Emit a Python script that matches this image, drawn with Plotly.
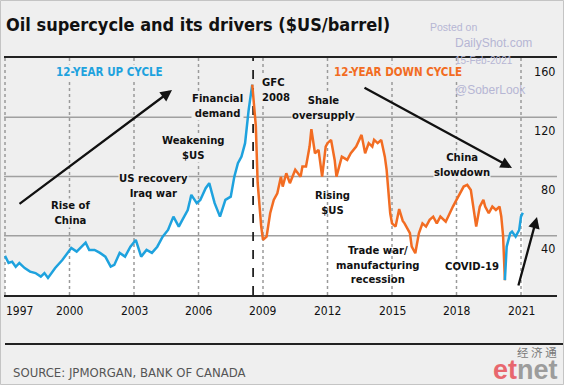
import plotly.graph_objects as go

# ---------------- data ----------------
up_dates = ["1997-01", "1997-03", "1997-05", "1997-07", "1997-09", "1997-12", "1998-03", "1998-06",
            "1998-09", "1998-11", "1999-01", "1999-05", "1999-09", "1999-12", "2000-02", "2000-05",
            "2000-08", "2000-10", "2000-12", "2001-03", "2001-06", "2001-09", "2001-12", "2002-02",
            "2002-05", "2002-08", "2002-11", "2003-02", "2003-05", "2003-08", "2003-11", "2004-02",
            "2004-05", "2004-08", "2004-11", "2005-02", "2005-04", "2005-07", "2005-09", "2005-12",
            "2006-02", "2006-05", "2006-07", "2006-10", "2007-01", "2007-04", "2007-07", "2007-09",
            "2007-11", "2008-01", "2008-03", "2008-05", "2008-07"]
up_values = [26.4, 21.6, 22.5, 19.0, 21.6, 18.2, 15.8, 14.8,
             12.4, 14.8, 11.5, 18.2, 23.6, 28.4, 31.8, 29.3,
             32.6, 35.3, 30.4, 30.4, 28.4, 25.9, 19.1, 20.3,
             28.4, 25.9, 32.6, 37.2, 25.9, 30.4, 28.4, 32.6,
             39.4, 43.9, 52.9, 46.2, 50.7, 57.4, 67.6, 62.0,
             64.2, 72.1, 75.5, 62.0, 52.9, 64.2, 66.4, 79.9,
             89.0, 93.4, 102.5, 125.0, 142.0]

down_dates = ["2008-07", "2008-08", "2008-09", "2008-10", "2008-11", "2008-12", "2009-01", "2009-03",
              "2009-05", "2009-07", "2009-09", "2009-11", "2009-12", "2010-02", "2010-04", "2010-07",
              "2010-10", "2010-11", "2011-01", "2011-03", "2011-04", "2011-06", "2011-08", "2011-10",
              "2011-12", "2012-01", "2012-03", "2012-05", "2012-06", "2012-09", "2012-12", "2013-02",
              "2013-05", "2013-08", "2013-10", "2013-12", "2014-02", "2014-03", "2014-05", "2014-07",
              "2014-09", "2014-10", "2014-12", "2015-01", "2015-03", "2015-05", "2015-07", "2015-08",
              "2015-11", "2015-12", "2016-02", "2016-04", "2016-06", "2016-08", "2016-10", "2016-12",
              "2017-02", "2017-04", "2017-07", "2017-09", "2017-11", "2018-01", "2018-03", "2018-05",
              "2018-07", "2018-09", "2018-12", "2019-02", "2019-04", "2019-05", "2019-07", "2019-09",
              "2019-11", "2020-01", "2020-02", "2020-03", "2020-04"]
down_values = [142.0, 128.0, 114.0, 76.0, 58.0, 46.2, 37.2, 39.4,
               55.2, 64.2, 68.7, 79.9, 73.2, 82.2, 75.5, 84.5,
               79.9, 86.7, 86.7, 100.2, 112.0, 95.7, 98.0, 79.9,
               100.2, 102.5, 104.7, 91.2, 79.9, 93.4, 91.2, 95.7,
               100.2, 108.1, 95.7, 102.5, 100.2, 104.7, 102.5, 104.7,
               93.4, 84.5, 55.2, 48.4, 46.2, 58.0, 50.0, 48.4,
               41.7, 32.6, 28.2, 41.7, 48.4, 46.2, 50.7, 52.9,
               48.4, 52.9, 49.5, 55.2, 59.7, 64.2, 68.7, 73.2,
               74.3, 70.9, 46.2, 59.7, 64.2, 59.7, 55.2, 59.7,
               57.4, 59.7, 52.9, 40.0, 10.0]

rec_dates = ["2020-04", "2020-05", "2020-07", "2020-08", "2020-10", "2020-12", "2021-01", "2021-02"]
rec_values = [10.0, 32.6, 41.7, 42.8, 39.4, 43.9, 52.9, 55.6]

x_tick_years = [1997, 2000, 2003, 2006, 2009, 2012, 2015, 2018, 2021]
y_tick_values = [40, 80, 120, 160]
gfc_year = 2008.54

BLUE = "#1ea2de"
ORANGE = "#f26c22"
BG = "#efefef"
FONT = "DejaVu Sans Condensed, DejaVu Sans, sans-serif"

# ---------------- geometry helpers ----------------
W, H = 564, 385
X0, X1 = 4, 557        # plot area pixel edges
Y0, Y1 = 58, 295
PX_PER_YR = 21.5
YR0 = 1997 - 1 / PX_PER_YR
YR1 = YR0 + (X1 - X0) / PX_PER_YR
YMAX = 160


def to_year(s):
    y, m = s.split("-")
    return int(y) + (int(m) - 1) / 12


def dx(px):
    return YR0 + (px - X0) / PX_PER_YR


def dy(py):
    return (Y1 - py) * YMAX / (Y1 - Y0)


def pxp(px):
    return (px - X0) / (X1 - X0)


def pyp(py):
    return (Y1 - py) / (Y1 - Y0)


up_x = [to_year(d) for d in up_dates]
down_x = [to_year(d) for d in down_dates]
rec_x = [to_year(d) for d in rec_dates]

fig = go.Figure()

# white area under the price line
fig.add_trace(go.Scatter(x=up_x + down_x + rec_x, y=up_values + down_values + rec_values,
                         mode="lines", line=dict(width=0), fill="tozeroy",
                         fillcolor="white", hoverinfo="skip", showlegend=False))

# horizontal gridlines (drawn above the fill)
for v in y_tick_values[:-1]:
    fig.add_trace(go.Scatter(x=[YR0, YR1], y=[v, v], mode="lines",
                             line=dict(color="#a0a0a0", width=1.3),
                             hoverinfo="skip", showlegend=False))
# vertical dotted gridlines
for yr in x_tick_years:
    fig.add_trace(go.Scatter(x=[yr, yr], y=[0, YMAX], mode="lines",
                             line=dict(color="#9a9a9a", width=1.5, dash="dot"),
                             hoverinfo="skip", showlegend=False))
# GFC dashed marker
fig.add_trace(go.Scatter(x=[gfc_year, gfc_year], y=[0, YMAX], mode="lines",
                         line=dict(color="#222222", width=1.8, dash="dash"),
                         hoverinfo="skip", showlegend=False))

# price lines
for xs, ys, col in [(up_x, up_values, BLUE), (down_x, down_values, ORANGE), (rec_x, rec_values, BLUE)]:
    fig.add_trace(go.Scatter(x=xs, y=ys, mode="lines", line=dict(color=col, width=2.5),
                             hoverinfo="skip", showlegend=False))

ann = []
LBL = 11.2


def label(text, px, py, size=LBL, color="#111111", bg=BG, xanchor="center", align="center", weight="bold"):
    ann.append(dict(text=text, x=dx(px), y=dy(py), xref="x", yref="y", showarrow=False,
                    xanchor=xanchor, yanchor="middle", align=align,
                    font=dict(family=FONT, size=size, color=color, weight=weight),
                    bgcolor=bg, borderpad=0))


label("12-YEAR UP CYCLE", 109, 72, size=11.5, color=BLUE)
label("12-YEAR DOWN CYCLE", 398, 72, size=11.5, color=ORANGE)
label("Rise of<br>China", 70, 213)
label("US recovery<br>Iraq war", 153, 186)
label("Weakening<br>$US", 193, 148)
label("Financial<br>demand", 217, 106)
label("GFC<br>2008", 261, 90, xanchor="left", align="left")
label("Shale<br>oversupply", 323, 108)
label("Rising<br>$US", 332, 203, bg="rgba(0,0,0,0)")
label("Trade war/<br>manufacturing<br>recession", 378, 265, bg="rgba(0,0,0,0)")
label("China<br>slowdown", 462, 165)
label("COVID-19", 472, 266, bg="rgba(0,0,0,0)")

# arrows
for (hx, hy, tx, ty) in [(172, 90, 18, 205), (512, 168, 363, 87), (537, 217, 518, 287)]:
    ann.append(dict(x=dx(hx), y=dy(hy), xref="x", yref="y", ax=tx - hx, ay=ty - hy,
                    showarrow=True, arrowhead=2, arrowsize=1, arrowwidth=2.3,
                    arrowcolor="#111111", text=""))

# x tick labels
for yr in x_tick_years:
    first = yr == x_tick_years[0]
    ann.append(dict(text=str(yr), x=pxp(X0) if first else yr, xref="paper" if first else "x",
                    y=pyp(311), yref="paper", showarrow=False,
                    xanchor="left" if first else "center", yanchor="middle",
                    font=dict(family=FONT, size=12, color="#111111")))
# y tick labels (right side, under the gridline)
for v in y_tick_values:
    ann.append(dict(text=str(v), x=1, xref="paper", y=v, yref="y", yshift=-13,
                    showarrow=False, xanchor="right", yanchor="middle",
                    font=dict(family=FONT, size=12.5, color="#111111")))

# title
ann.append(dict(text="Oil supercycle and its drivers ($US/barrel)", x=pxp(4), y=pyp(25),
                xref="paper", yref="paper", showarrow=False, xanchor="left", yanchor="middle",
                font=dict(family=FONT, size=18, color="#111111", weight="bold")))

# watermark
WM = "#b6b6d4"
for t, px, py, s in [("Posted on", 428, 27, 10.5), ("DailyShot.com", 453, 43, 12),
                     ("15-Feb-2021", 453, 61, 10), ("@SoberLook", 453, 90, 12)]:
    ann.append(dict(text=t, x=pxp(px), y=pyp(py), xref="paper", yref="paper", showarrow=False,
                    xanchor="left", yanchor="middle",
                    font=dict(family="Liberation Sans, Arial, sans-serif", size=s, color=WM)))

# source
ann.append(dict(text="SOURCE: JPMORGAN, BANK OF CANADA", x=pxp(11), y=pyp(372),
                xref="paper", yref="paper", showarrow=False, xanchor="left", yanchor="middle",
                font=dict(family=FONT, size=13, color="#555555")))

# etnet logo
ann.append(dict(text="经 济 通", x=pxp(559), y=pyp(351.5), xref="paper", yref="paper", showarrow=False,
                xanchor="right", yanchor="middle",
                font=dict(family="Noto Sans CJK SC, sans-serif", size=11.5, color="#7a7a7a")))
ann.append(dict(text="<span style='color:#e8676e'>et</span><span style='color:#9c9c9c'>net</span>",
                x=pxp(560), y=pyp(369.5), xref="paper", yref="paper", showarrow=False,
                xanchor="right", yanchor="middle",
                font=dict(family="Liberation Sans, Arial, sans-serif", size=27, color="#9c9c9c",
                          weight="bold")))

shapes = [
    # separator above source
    dict(type="line", xref="paper", yref="paper", x0=pxp(5), x1=pxp(564), y0=pyp(344), y1=pyp(344),
         line=dict(color="#222222", width=2)),
    # outer border
    dict(type="rect", xref="paper", yref="paper", x0=pxp(0.5), x1=pxp(563.5), y0=pyp(384.5), y1=pyp(0.5),
         line=dict(color="#c4c4c4", width=1)),
]

fig.update_layout(
    width=W, height=H, autosize=False,
    margin=dict(l=X0, r=W - X1, t=Y0, b=H - Y1, pad=0),
    paper_bgcolor=BG, plot_bgcolor=BG,
    showlegend=False, hovermode=False,
    annotations=ann, shapes=shapes,
    xaxis=dict(range=[YR0, YR1], showgrid=False, zeroline=False, showticklabels=False,
               showline=True, mirror=True, linecolor="#222222", linewidth=2, ticks="",
               fixedrange=True),
    yaxis=dict(range=[0, YMAX], showgrid=False, zeroline=False, showticklabels=False,
               showline=False, ticks="", fixedrange=True),
)

fig.write_html("out.html", config={"displayModeBar": False, "staticPlot": True},
               post_script="document.body.style.margin='0';document.body.style.background='#efefef';")
